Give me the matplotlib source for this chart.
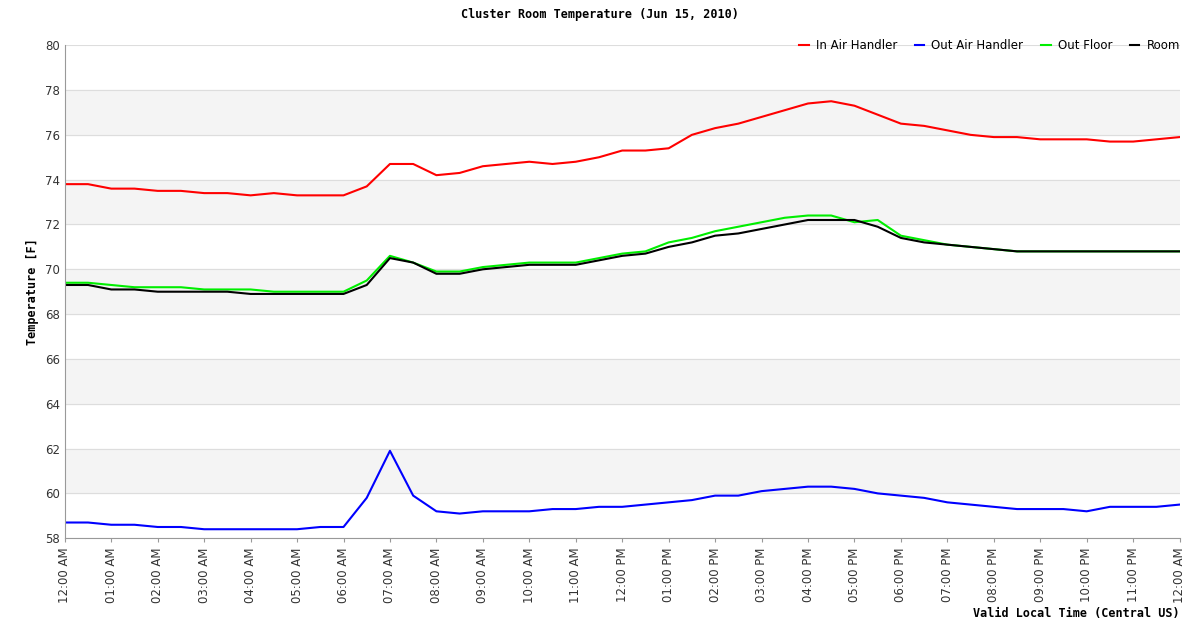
import numpy as np
import matplotlib
matplotlib.use("Agg")
import matplotlib.pyplot as plt

# hours since midnight, every 30 minutes
hours = np.arange(0, 24.5, 0.5)

in_air = [73.8, 73.8, 73.6, 73.6, 73.5, 73.5, 73.4, 73.4, 73.3, 73.4, 73.3, 73.3, 73.3,
          73.7, 74.7, 74.7, 74.2, 74.3, 74.6, 74.7, 74.8, 74.7, 74.8, 75.0, 75.3, 75.3,
          75.4, 76.0, 76.3, 76.5, 76.8, 77.1, 77.4, 77.5, 77.3, 76.9, 76.5, 76.4, 76.2,
          76.0, 75.9, 75.9, 75.8, 75.8, 75.8, 75.7, 75.7, 75.8, 75.9]
out_air = [58.7, 58.7, 58.6, 58.6, 58.5, 58.5, 58.4, 58.4, 58.4, 58.4, 58.4, 58.5, 58.5,
           59.8, 61.9, 59.9, 59.2, 59.1, 59.2, 59.2, 59.2, 59.3, 59.3, 59.4, 59.4, 59.5,
           59.6, 59.7, 59.9, 59.9, 60.1, 60.2, 60.3, 60.3, 60.2, 60.0, 59.9, 59.8, 59.6,
           59.5, 59.4, 59.3, 59.3, 59.3, 59.2, 59.4, 59.4, 59.4, 59.5]
out_floor = [69.4, 69.4, 69.3, 69.2, 69.2, 69.2, 69.1, 69.1, 69.1, 69.0, 69.0, 69.0, 69.0,
             69.5, 70.6, 70.3, 69.9, 69.9, 70.1, 70.2, 70.3, 70.3, 70.3, 70.5, 70.7, 70.8,
             71.2, 71.4, 71.7, 71.9, 72.1, 72.3, 72.4, 72.4, 72.1, 72.2, 71.5, 71.3, 71.1,
             71.0, 70.9, 70.8, 70.8, 70.8, 70.8, 70.8, 70.8, 70.8, 70.8]
room = [69.3, 69.3, 69.1, 69.1, 69.0, 69.0, 69.0, 69.0, 68.9, 68.9, 68.9, 68.9, 68.9,
        69.3, 70.5, 70.3, 69.8, 69.8, 70.0, 70.1, 70.2, 70.2, 70.2, 70.4, 70.6, 70.7,
        71.0, 71.2, 71.5, 71.6, 71.8, 72.0, 72.2, 72.2, 72.2, 71.9, 71.4, 71.2, 71.1,
        71.0, 70.9, 70.8, 70.8, 70.8, 70.8, 70.8, 70.8, 70.8, 70.8]

tick_labels = ["12:00 AM"] + ["%02d:00 AM" % h for h in range(1, 12)] + ["12:00 PM"] + \
              ["%02d:00 PM" % h for h in range(1, 12)] + ["12:00 AM"]

fig = plt.figure(figsize=(12, 6.28), dpi=100)
ax = fig.add_axes([0.054, 0.143, 0.929, 0.785])

# alternating bands
for lo in range(58, 80, 2):
    if (lo // 2) % 2 == 0:
        ax.axhspan(lo, lo + 2, color="#f4f4f4", zorder=0)
ax.grid(axis="y", color="#dddddd", linewidth=0.8, zorder=0)

ax.plot(hours, in_air, color="#ff0000", lw=1.5, label="In Air Handler")
ax.plot(hours, out_air, color="#0000ff", lw=1.5, label="Out Air Handler")
ax.plot(hours, out_floor, color="#00ee00", lw=1.5, label="Out Floor")
ax.plot(hours, room, color="#000000", lw=1.5, label="Room")

ax.set_xlim(0, 24)
ax.set_ylim(58, 80)
ax.set_yticks(range(58, 81, 2))
ax.set_xticks(range(0, 25))
ax.set_xticklabels(tick_labels, rotation=90, fontsize=8.5, color="#333333")
ax.tick_params(axis="y", labelsize=8.5, colors="#333333", length=0)
ax.tick_params(axis="x", length=3, color="#999999")
for s in ["top", "right"]:
    ax.spines[s].set_visible(False)
for s in ["left", "bottom"]:
    ax.spines[s].set_color("#999999")

ax.set_ylabel("Temperature [F]", family="DejaVu Sans Mono", fontsize=8.5, fontweight="bold")
fig.text(0.983, 0.018, "Valid Local Time (Central US)", ha="right", family="DejaVu Sans Mono",
         fontsize=8.5, fontweight="bold")
fig.text(0.5, 0.972, "Cluster Room Temperature (Jun 15, 2010)", ha="center",
         family="DejaVu Sans Mono", fontsize=8.5, fontweight="bold")

fig.legend(loc="upper right", bbox_to_anchor=(0.992, 0.955), ncol=4, frameon=False,
           fontsize=8.5, handlelength=0.8, columnspacing=1.5, handletextpad=0.6)

fig.savefig("out.png", dpi=100)
